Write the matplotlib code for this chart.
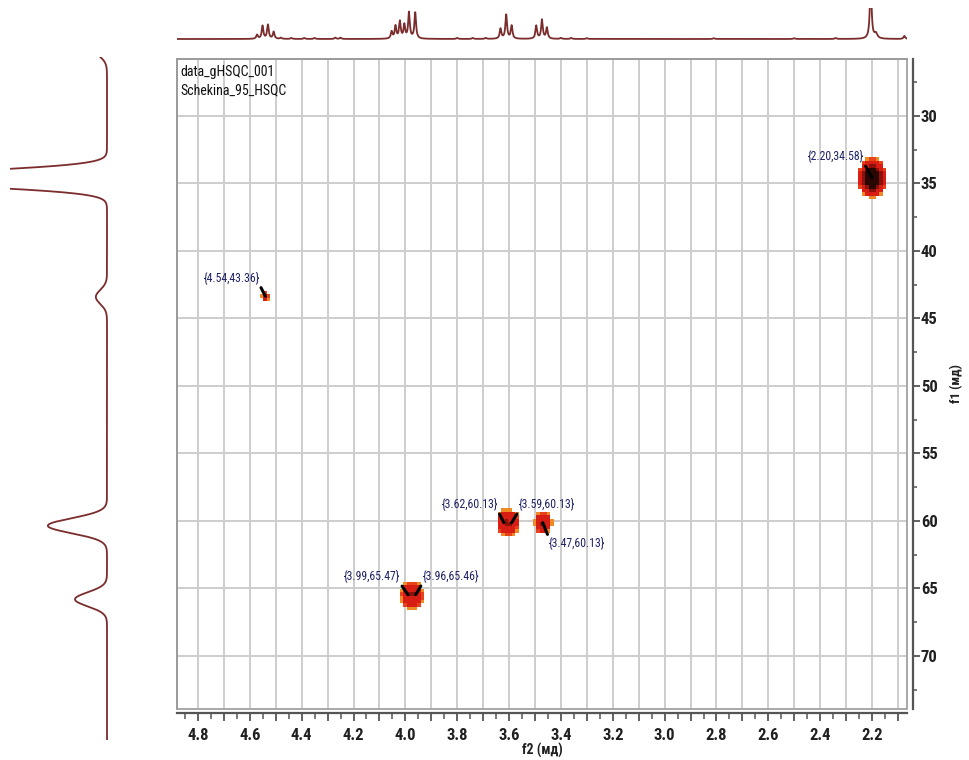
import numpy as np
import matplotlib
matplotlib.use("Agg")
import matplotlib.pyplot as plt
from matplotlib import font_manager as fm
from matplotlib.colors import ListedColormap, BoundaryNorm
from matplotlib.patches import Rectangle
from matplotlib.ticker import MultipleLocator

# ---------------- data ----------------
# HSQC cross peaks (f2 = 1H ppm, f1 = 13C ppm) and relative intensity
peak_f2 = [2.20, 4.54, 3.62, 3.59, 3.47, 3.99, 3.96]
peak_f1 = [34.58, 43.36, 60.13, 60.13, 60.13, 65.47, 65.46]
peak_int = [40, 5, 7, 7, 9, 7, 7]
peak_labels = ["{2.20,34.58}", "{4.54,43.36}", "{3.62,60.13}", "{3.59,60.13}",
               "{3.47,60.13}", "{3.99,65.47}", "{3.96,65.46}"]

# 1H trace (top): line positions (ppm) and heights
h_ppm = [4.572, 4.551, 4.530, 4.508,
         4.053, 4.038, 4.021, 4.004, 3.986, 3.962,
         3.633, 3.611, 3.590,
         3.495, 3.473, 3.454,
         2.205, 2.185, 2.075,
         4.48, 4.44, 4.39, 4.35, 4.27, 4.25, 3.80, 3.74, 3.69,
         3.40, 3.36, 3.30, 2.81, 2.50, 2.34]
h_height = [4, 13, 14, 7,
            7, 12.5, 17, 13.5, 26, 26,
            10, 24, 13,
            13, 19, 11,
            60, 5, 3,
            1.2, 1.0, 1.0, 1.0, 1.3, 1.3, 1.0, 1.0, 1.0,
            1.0, 1.0, 0.8, 0.8, 0.8, 1.0]

# 13C trace (left): line positions (ppm) and heights
c_ppm = [24.8, 34.65, 43.4, 60.35, 65.8]
c_height = [18, 255, 11.5, 61, 33]

# tick labels along f2
f2_tick_labels = ["4.8", "4.6", "4.4", "4.2", "4.0", "3.8", "3.6", "3.4",
                  "3.2", "3.0", "2.8", "2.6", "2.4", "2.2"]

# axis ranges (ppm)
f2_range = (4.881, 2.065)
f1_range = (73.93, 25.78)

# ---------------- styling ----------------
W, H = 970, 760
TRACE = "#7b2c2c"
FRAME = "#9a9a9a"
AXIS = "#555555"
GRID = "#cdcdcd"
LABEL = "#1f2266"


def narrow_family():
    """Prefer a condensed sans face when one is installed."""
    names = {f.name for f in fm.fontManager.ttflist}
    for cand in ("Liberation Sans Narrow", "Roboto Condensed",
                 "Open Sans Condensed", "Noto Sans Condensed"):
        if cand in names:
            return [cand, "DejaVu Sans"], "normal"
    for f in fm.fontManager.ttflist:
        if f.name == "DejaVu Sans" and str(f.stretch) in ("condensed", "semi-condensed"):
            return ["DejaVu Sans"], "condensed"
    return ["Liberation Sans", "DejaVu Sans"], "normal"


NARROW, STRETCH = narrow_family()

# blob widths (ppm) for each cross peak
sig_f2 = [0.021, 0.009, 0.015, 0.015, 0.017, 0.015, 0.015]
sig_f1 = [0.57, 0.20, 0.48, 0.48, 0.42, 0.50, 0.50]
# label offsets (pixels) and leader anchor on the label box
lab_off = [(-36, 21), (-34, 18), (-34, 18), (35, 18), (34, -21), (-36, 18), (35, 18)]
lab_rel = [(1, 0), (1, 0), (1, 0), (0, 0), (0, 1), (1, 0), (0, 0)]
# widths of 1D lines
h_hwhm = 0.0038
c_sigma = [0.6, 0.54, 0.52, 0.55, 0.52]


def box(x0, y0, x1, y1):
    return [x0 / W, 1 - y1 / H, (x1 - x0) / W, (y1 - y0) / H]


def style_text(t, size, weight="normal"):
    t.set_family(NARROW)
    t.set_stretch(STRETCH)
    t.set_fontsize(size)
    t.set_fontweight(weight)


fig = plt.figure(figsize=(W / 100, H / 100), dpi=100)
fig.patch.set_facecolor("white")

# ---------------- main 2D panel ----------------
ax = fig.add_axes(box(177, 59, 907, 709))
ax.set_xlim(*f2_range)
ax.set_ylim(*f1_range)

for s in ("top", "left"):
    ax.spines[s].set_color(FRAME)
    ax.spines[s].set_linewidth(1.2)
ax.spines["bottom"].set_position(("outward", 3))
ax.spines["right"].set_position(("outward", 4))
for s in ("bottom", "right"):
    ax.spines[s].set_color(AXIS)
    ax.spines[s].set_linewidth(1.6)
ax.add_patch(Rectangle((0, 0), 1, 1, transform=ax.transAxes, fill=False,
                       ec=FRAME, lw=1.2, zorder=5, clip_on=False))

xt = np.round(np.arange(2.1, 4.85, 0.1), 1)
label_map = {float(s): s for s in f2_tick_labels}
ax.set_xticks(xt)
ax.set_xticklabels([label_map.get(float(v), "") for v in xt])
ax.xaxis.set_minor_locator(MultipleLocator(0.05))
ax.set_yticks(np.arange(30, 71, 5))
ax.yaxis.set_minor_locator(MultipleLocator(2.5))
ax.yaxis.tick_right()
ax.yaxis.set_label_position("right")
ax.tick_params(axis="x", which="major", direction="out", length=6, width=1.3,
               color=AXIS, pad=5)
ax.tick_params(axis="x", which="minor", direction="out", length=4, width=1.1,
               color=AXIS)
ax.tick_params(axis="y", which="major", direction="out", length=5, width=1.3,
               color=AXIS, pad=1)
ax.tick_params(axis="y", which="minor", direction="out", length=3, width=1.1,
               color=AXIS)
for lab in ax.get_xticklabels() + ax.get_yticklabels():
    style_text(lab, 12, "bold")
    lab.set_color("#202020")

ax.grid(True, which="major", color=GRID, lw=1.4)
ax.set_axisbelow(True)

xl = ax.set_xlabel("f2 (мд)", color="#202020", labelpad=0)
style_text(xl, 10, "bold")
yl = ax.set_ylabel("f1 (мд)", color="#202020", labelpad=9)
style_text(yl, 9.5, "bold")

# cross-peak intensity map on a coarse digital grid
xe = np.arange(f2_range[1], f2_range[0] + 0.0135, 0.0135)
ye = np.arange(f1_range[1], f1_range[0] + 0.26, 0.26)
xc = 0.5 * (xe[:-1] + xe[1:])
yc = 0.5 * (ye[:-1] + ye[1:])
X, Y = np.meshgrid(xc, yc)
Z = np.zeros_like(X)
for x0, y0, a, sx, sy in zip(peak_f2, peak_f1, peak_int, sig_f2, sig_f1):
    Z += a * np.exp(-((X - x0) ** 2 / (2 * sx ** 2) + (Y - y0) ** 2 / (2 * sy ** 2)))
Z = np.ma.masked_less(Z, 1.0)
cmap = ListedColormap(["#f08a24", "#e8421a", "#d81e14", "#8a120a", "#2a0703"])
norm = BoundaryNorm([1, 1.5, 2.3, 8, 18, 1e6], cmap.N)
ax.pcolormesh(xe, ye, Z, cmap=cmap, norm=norm, shading="flat", zorder=3)

for x0, y0, txt, off, rel in zip(peak_f2, peak_f1, peak_labels, lab_off, lab_rel):
    an = ax.annotate(txt, xy=(x0, y0), xytext=off, textcoords="offset pixels",
                     ha="center", va="center", color=LABEL, zorder=6,
                     arrowprops=dict(arrowstyle="-", color="black", lw=2.2,
                                     shrinkA=0, shrinkB=0, relpos=rel))
    style_text(an, 8.5)

for ypx, txt in ((72, "data_gHSQC_001"), (90, "Schekina_95_HSQC")):
    t = fig.text(180 / W, 1 - ypx / H, txt, va="center", ha="left", color="#111111")
    style_text(t, 10)

# ---------------- 1H trace (top) ----------------
axt = fig.add_axes(box(177, 8, 907, 45))
xs = np.linspace(f2_range[1], f2_range[0], 8000)
spec_h = np.zeros_like(xs)
for p, h in zip(h_ppm, h_height):
    w = 0.007 if abs(p - 2.185) < 1e-3 else h_hwhm
    spec_h += h * w ** 2 / ((xs - p) ** 2 + w ** 2)
axt.plot(xs, spec_h, color=TRACE, lw=1.3)
axt.set_xlim(*f2_range)
axt.set_ylim(-6, 31)
axt.axis("off")

# ---------------- 13C trace (left) ----------------
axl = fig.add_axes(box(10, 57, 115, 740))
f1_lo = 30 - (116 - 57) / 13.5
f1_hi = 30 + (740 - 116) / 13.5
ys = np.linspace(f1_lo, f1_hi, 4000)
spec_c = np.zeros_like(ys)
for p, h, s in zip(c_ppm, c_height, c_sigma):
    spec_c += h * np.exp(-(ys - p) ** 2 / (2 * s ** 2))
axl.plot(spec_c, ys, color=TRACE, lw=1.3)
axl.set_ylim(f1_hi, f1_lo)
axl.set_xlim(100, -8.25)
axl.axis("off")

fig.savefig("out.png", dpi=100, facecolor="white")
